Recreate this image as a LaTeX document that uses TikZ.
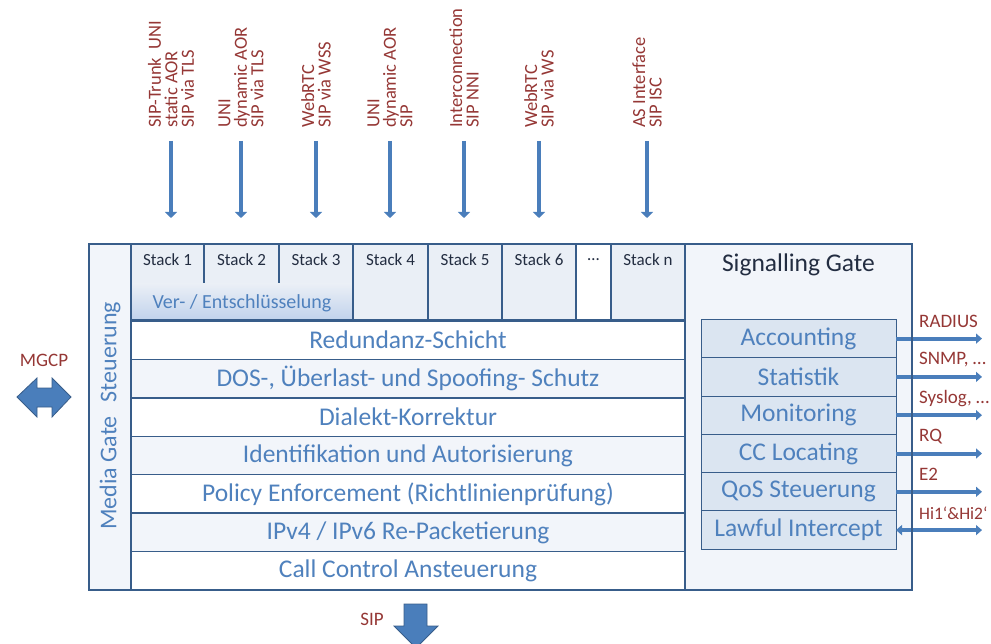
\documentclass[tikz,border=0pt]{standalone}
\usepackage{fontspec}
\setmainfont{Carlito}
\usetikzlibrary{arrows.meta}

\definecolor{rahmen}{RGB}{56,93,138}
\definecolor{blautext}{RGB}{79,129,189}
\definecolor{pfeilblau}{RGB}{74,126,187}
\definecolor{dunkelrot}{RGB}{149,55,53}
\definecolor{stacktext}{RGB}{35,45,65}
\definecolor{hellblau}{RGB}{219,229,241}
\definecolor{schraffur}{RGB}{242,245,250}
\definecolor{punktiert}{RGB}{234,239,246}
\definecolor{verlauf}{RGB}{194,211,236}

\tikzset{
  schicht/.style={draw=rahmen, line width=1.5pt, text=blautext,
    font=\fontsize{25.5}{30}\selectfont, minimum width=554pt,
    minimum height=38.4pt, inner sep=0pt, outer sep=0pt},
  sgbox/.style={draw=rahmen, line width=1pt, fill=hellblau, text=blautext,
    font=\fontsize{25.5}{30}\selectfont, minimum width=195pt,
    minimum height=38.3pt, inner sep=0pt, outer sep=0pt},
  protokoll/.style={text=dunkelrot, font=\fontsize{19}{20}\selectfont,
    anchor=west, inner sep=0pt},
  pfeil/.style={pfeilblau, line width=4.5pt,
    -{Triangle[width=12pt,length=6pt]}},
  sgpfeil/.style={pfeilblau, line width=4pt}
}

\begin{document}
\begin{tikzpicture}[x=1pt,y=-1pt]
\useasboundingbox (0,0) rectangle (991,644);

% Hintergrund Media Gate / Signalling Gate
\fill[schraffur] (89,244) rectangle (912,590);

% Stacks
\foreach \l/\r/\n/\txt in {131/204/1/Stack 1,204/279/2/Stack 2,279/353/3/Stack 3,
    353/428/4/Stack 4,428/502/5/Stack 5,502/576/6/Stack 6,576/611/7/{…},611/685/8/Stack n} {
  \pgfmathsetmacro{\mx}{(\l+\r)/2}
  \draw[rahmen, line width=1.5pt, fill=punktiert] (\l,244) rectangle (\r,320);
  \node[text=stacktext, font=\fontsize{17}{20}\selectfont, inner sep=0pt] (stack\n) at (\mx,260) {\txt};
}
\fill[white] (577,245) rectangle (610,319);
\node[text=stacktext, font=\fontsize{17}{20}\selectfont, inner sep=0pt] at (593.5,260) {…};

% Ver- / Entschluesselung
\shade[top color=punktiert, bottom color=verlauf] (132,284) rectangle (352,319);
\node[text=blautext, font=\fontsize{20}{24}\selectfont, inner sep=0pt] (krypto) at (242,303) {Ver- / Entschlüsselung};
\draw[rahmen, line width=1.5pt] (353,244) -- (353,320);

% Schichten
\foreach \i/\txt/\farbe in {0/Redundanz-Schicht/white,
    1/{DOS-, Überlast- und Spoofing- Schutz}/schraffur,
    2/Dialekt-Korrektur/white,
    3/Identifikation und Autorisierung/schraffur,
    4/Policy Enforcement (Richtlinienprüfung)/white,
    5/{IPv4 / IPv6 Re-Packetierung}/schraffur,
    6/Call Control Ansteuerung/white} {
  \pgfmathsetmacro{\my}{340.2+38.43*\i}
  \node[schicht, fill=\farbe] (schicht\i) at (408,\my) {\txt};
}

% Media Gate Steuerung
\draw[rahmen, line width=1.5pt] (131,244) -- (131,590);
\node[rotate=90, text=blautext, font=\fontsize{24}{28}\selectfont, inner sep=0pt] (mgs) at (110,416) {Media Gate\hspace{14pt}Steuerung};

% Signalling Gate
\draw[rahmen, line width=1.5pt] (685,244) -- (685,590);
\node[text=stacktext, font=\fontsize{25.5}{30}\selectfont, inner sep=0pt] (sgtitel) at (798.5,265) {Signalling Gate};
\foreach \i/\txt/\proto in {0/Accounting/RADIUS,1/Statistik/{SNMP, …},2/Monitoring/{Syslog, …},
    3/CC Locating/RQ,4/QoS Steuerung/E2,5/Lawful Intercept/{\fontsize{17.5}{20}\selectfont Hi1‘\&Hi2‘}} {
  \pgfmathsetmacro{\my}{338.6+38.3*\i}
  \node[sgbox] (sg\i) at (798.5,\my) {\txt};
  \coordinate (aus\i) at (982,\my);
  \node[protokoll] (proto\i) at (919,\my-17) {\proto};
}
\foreach \i in {0,1,2,3,4} {
  \draw[sgpfeil, -{Triangle[width=10pt,length=6pt]}] (sg\i.east) -- (aus\i);
}
\draw[sgpfeil, {Triangle[width=10pt,length=6pt]}-{Triangle[width=10pt,length=6pt]}] (sg5.east) -- (aus5);

% Aussenrahmen
\draw[rahmen, line width=2.5pt] (89,244) rectangle (912,590);

% Zugaenge oben
\foreach \x/\n/\txt in {171/1/{SIP-Trunk\ \ UNI\\static AOR\\SIP via TLS},
    241/2/{UNI\\dynamic AOR\\SIP via TLS},
    316/3/{WebRTC\\SIP via WSS},
    390/4/{UNI\\dynamic AOR\\SIP},
    464/5/{Interconnection\\SIP NNI},
    539/6/{WebRTC\\SIP via WS},
    647/7/{AS Interface\\SIP ISC}} {
  \node[rotate=90, anchor=west, align=left, text=dunkelrot,
    font=\fontsize{18.5}{16.5}\selectfont, inner sep=0pt] (zugang\n) at (\x,128) {\txt};
  \coordinate (oben\n) at (\x,141);
  \coordinate (unten\n) at (\x,218);
  \draw[pfeil] (oben\n) -- (unten\n);
}

% MGCP
\node[text=dunkelrot, font=\fontsize{19}{20}\selectfont, inner sep=0pt] (mgcp) at (44,360) {MGCP};
\draw[rahmen, line width=0.8pt, fill=pfeilblau] (17,397) -- (37,378) -- (37,388) -- (52,388) -- (52,378)
  -- (71,397) -- (52,417) -- (52,407) -- (37,407) -- (37,417) -- cycle;

% SIP
\node[text=dunkelrot, font=\fontsize{19}{20}\selectfont, inner sep=0pt] (sip) at (372,619) {SIP};
\draw[rahmen, line width=0.8pt, fill=pfeilblau] (404,604) -- (427,604) -- (427,626) -- (438,626)
  -- (416,648) -- (394,626) -- (404,626) -- cycle;
\end{tikzpicture}
\end{document}
